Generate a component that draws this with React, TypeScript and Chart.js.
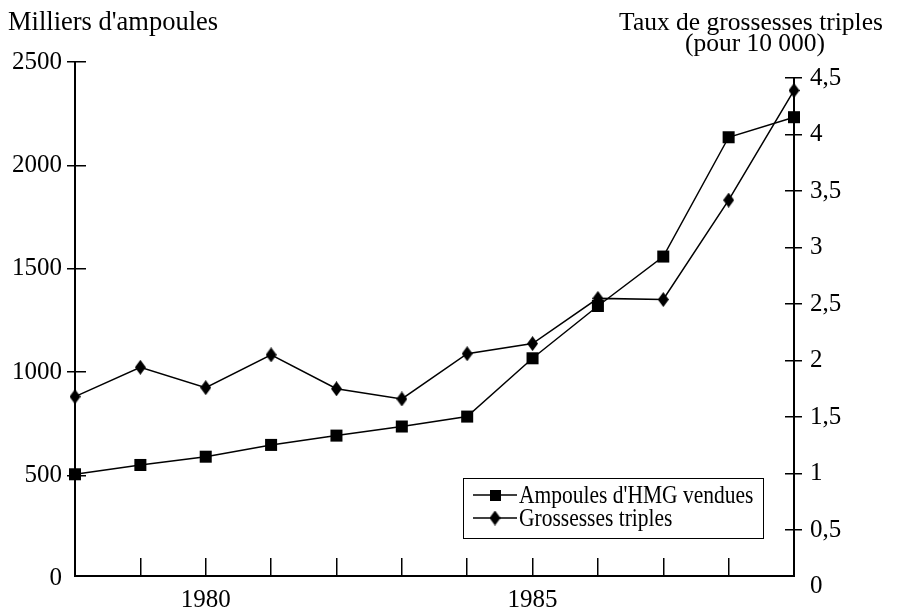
import React, { useEffect, useRef } from 'react';
import { Chart, registerables } from 'chart.js';

Chart.register(...registerables);

// ---- data ----
const years = [1978, 1979, 1980, 1981, 1982, 1983, 1984, 1985, 1986, 1987, 1988, 1989];
const hmgAmpoules = [506, 551, 591, 648, 693, 737, 785, 1067, 1320, 1559, 2136, 2233];
const triplesRate = [1.68, 1.94, 1.76, 2.05, 1.75, 1.66, 2.06, 2.15, 2.55, 2.54, 3.42, 4.39];
const labeledYears = [1980, 1985];
const leftTickValues = [0, 500, 1000, 1500, 2000, 2500];
const rightTickValues = [0, 0.5, 1, 1.5, 2, 2.5, 3, 3.5, 4, 4.5];
const seriesNames = ["Ampoules d'HMG vendues", 'Grossesses triples'];
const leftAxisTitle = "Milliers d'ampoules";
const rightAxisTitle = ['Taux de grossesses triples', '(pour 10 000)'];

const SERIF = '"Liberation Serif", "Times New Roman", Times, serif';

function makeDiamond(w: number, h: number): HTMLCanvasElement {
  const c = document.createElement('canvas');
  c.width = w;
  c.height = h;
  const g = c.getContext('2d')!;
  g.fillStyle = '#000';
  g.beginPath();
  g.moveTo(w / 2, 0);
  g.lineTo(w, h / 2);
  g.lineTo(w / 2, h);
  g.lineTo(0, h / 2);
  g.closePath();
  g.fill();
  return c;
}

function align(p: number, w: number) {
  const hw = w / 2;
  return Math.round(p - hw) + hw;
}

function makeDecorPlugin(diamond: HTMLCanvasElement) {
  return {
    id: 'decor',
    afterDraw(chart: any) {
      const { ctx, chartArea, scales } = chart;
      const yL = scales.yL;
      const yR = scales.yR;
      ctx.save();
      ctx.strokeStyle = '#000';
      ctx.fillStyle = '#000';

      // inner halves of the crossing tick marks
      ctx.lineWidth = 1.5;
      ctx.beginPath();
      leftTickValues.forEach((v) => {
        if (v < yL.min) return;
        const y = align(yL.getPixelForValue(v), 1.5);
        ctx.moveTo(chartArea.left, y);
        ctx.lineTo(chartArea.left + 11, y);
      });
      rightTickValues.forEach((v) => {
        if (v < yR.min) return;
        const y = align(yR.getPixelForValue(v), 1.5);
        ctx.moveTo(chartArea.right - 9, y);
        ctx.lineTo(chartArea.right, y);
      });
      ctx.stroke();

      // right axis line, from its top tick down to the x axis
      ctx.lineWidth = 2;
      ctx.beginPath();
      const rx = align(chartArea.right, 2);
      ctx.moveTo(rx, align(yR.getPixelForValue(rightTickValues[rightTickValues.length - 1]), 1.5));
      ctx.lineTo(rx, chartArea.bottom + 1);
      ctx.stroke();

      // axis titles
      ctx.textBaseline = 'alphabetic';
      ctx.font = `26.5px ${SERIF}`;
      ctx.textAlign = 'left';
      ctx.fillText(leftAxisTitle, 8, 30);
      ctx.font = `25.5px ${SERIF}`;
      ctx.textAlign = 'center';
      ctx.fillText(rightAxisTitle[0], 751, 30);
      ctx.fillText(rightAxisTitle[1], 755, 51);

      // legend
      ctx.lineWidth = 1;
      ctx.strokeRect(463.5, 478.5, 300, 60);
      const rowY = [495, 518];
      ctx.lineWidth = 1.5;
      rowY.forEach((y, i) => {
        ctx.beginPath();
        ctx.moveTo(473, y);
        ctx.lineTo(517, y);
        ctx.stroke();
        if (i === 0) {
          ctx.fillRect(490, y - 5, 11, 11);
        } else {
          ctx.drawImage(diamond, 495 - diamond.width / 2, y - diamond.height / 2);
        }
        ctx.save();
        ctx.font = `25px ${SERIF}`;
        ctx.textAlign = 'left';
        ctx.textBaseline = 'middle';
        ctx.translate(519, y + 1);
        ctx.scale(0.86, 1);
        ctx.fillText(seriesNames[i], 0, 0);
        ctx.restore();
      });
      ctx.restore();
    },
  };
}

export default function App() {
  const ref = useRef<HTMLCanvasElement>(null);

  useEffect(() => {
    document.body.style.margin = '0';
    const canvas = ref.current;
    if (!canvas) return;
    const diamond = makeDiamond(11, 15);
    const tickFont = { family: SERIF, size: 25 };
    const edgeYears = [years[0], years[years.length - 1]];
    const hideZero = (c: any) => (c.tick && c.tick.value === 0 ? 'rgba(0,0,0,0)' : '#000');

    const chart = new Chart(canvas, {
      type: 'line',
      data: {
        datasets: [
          {
            label: seriesNames[0],
            data: years.map((x, i) => ({ x, y: hmgAmpoules[i] })),
            yAxisID: 'yL',
            borderColor: '#000',
            backgroundColor: '#000',
            borderWidth: 1.5,
            pointStyle: 'rect',
            pointRadius: 8.5,
            pointBackgroundColor: '#000',
            pointBorderWidth: 0,
            clip: false,
          },
          {
            label: seriesNames[1],
            data: years.map((x, i) => ({ x, y: triplesRate[i] })),
            yAxisID: 'yR',
            borderColor: '#000',
            backgroundColor: '#000',
            borderWidth: 1.5,
            pointStyle: diamond,
            pointRadius: 8,
            clip: false,
          },
        ],
      },
      options: {
        animation: false,
        responsive: false,
        devicePixelRatio: 1,
        events: [],
        layout: { padding: { top: 62, left: 0, right: 0, bottom: 0 } },
        plugins: {
          legend: { display: false },
          tooltip: { enabled: false },
          title: { display: false },
        },
        scales: {
          x: {
            type: 'linear',
            position: 'bottom',
            min: years[0],
            max: years[years.length - 1],
            bounds: 'data',
            afterBuildTicks: (s: any) => {
              s.ticks = years.map((v) => ({ value: v }));
            },
            afterFit: (s: any) => {
              s.height = 37;
            },
            ticks: {
              autoSkip: false,
              maxRotation: 0,
              padding: 27,
              color: '#000',
              font: tickFont,
              callback: (v: any) => (labeledYears.includes(v) ? String(v) : ''),
            },
            grid: {
              drawOnChartArea: false,
              tickLength: -18,
              lineWidth: 1.5,
              color: (c: any) => (c.tick && edgeYears.includes(c.tick.value) ? 'rgba(0,0,0,0)' : '#000'),
            },
            border: { color: '#000', width: 2 },
          },
          yL: {
            type: 'linear',
            position: 'left',
            min: 14,
            max: 2500,
            bounds: 'data',
            afterBuildTicks: (s: any) => {
              s.ticks = leftTickValues.map((v) => ({ value: v }));
            },
            afterFit: (s: any) => {
              s.width = 75;
            },
            ticks: {
              autoSkip: false,
              padding: 5,
              color: '#000',
              font: tickFont,
              callback: (v: any) => String(v),
            },
            grid: { drawOnChartArea: false, tickLength: 8, lineWidth: 1.5, color: hideZero },
            border: { color: '#000', width: 2 },
          },
          yR: {
            type: 'linear',
            position: 'right',
            min: 0.093,
            max: 4.642,
            bounds: 'data',
            afterBuildTicks: (s: any) => {
              s.ticks = rightTickValues.map((v) => ({ value: v }));
            },
            afterFit: (s: any) => {
              s.width = 113;
            },
            ticks: {
              autoSkip: false,
              padding: 8,
              color: '#000',
              font: tickFont,
              callback: (v: any) => String(v).replace('.', ','),
            },
            grid: { drawOnChartArea: false, tickLength: 8, lineWidth: 1.5, color: hideZero },
            border: { display: false },
          },
        },
      },
      plugins: [makeDecorPlugin(diamond)],
    } as any);

    return () => chart.destroy();
  }, []);

  return (
    <div style={{ width: 907, height: 613, position: 'relative' }}>
      <canvas ref={ref} width={907} height={613} style={{ display: 'block', width: 907, height: 613 }} />
    </div>
  );
}
